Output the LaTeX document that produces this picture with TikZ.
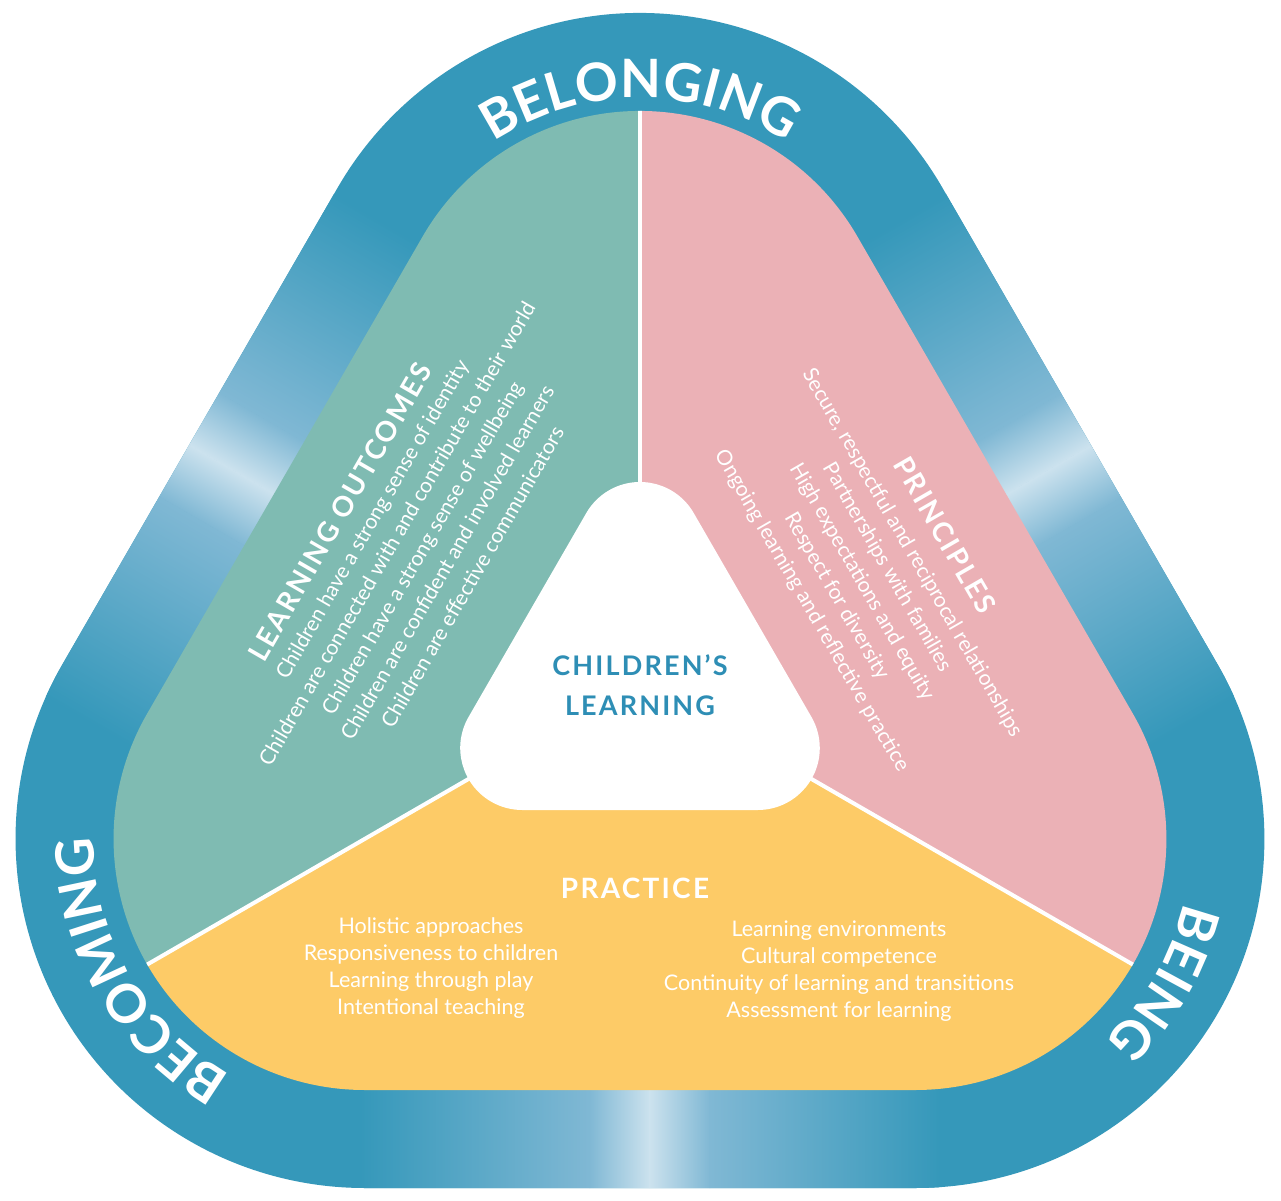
\documentclass[tikz,border=0pt]{standalone}
\usepackage{fontspec}
\setmainfont{Lato}
\newfontfamily\headfont{Lato}[LetterSpace=8.0]
\usepackage{tikz}
\usetikzlibrary{positioning,calc,decorations.text}

\definecolor{ringblue}{RGB}{53,152,186}
\definecolor{ringmid}{RGB}{128,184,212}
\definecolor{ringlight}{RGB}{204,226,238}
\definecolor{outcometeal}{RGB}{127,187,178}
\definecolor{principlepink}{RGB}{235,177,182}
\definecolor{practiceyellow}{RGB}{253,203,103}
\definecolor{titleblue}{RGB}{46,142,181}

% rounded triangle round (mid): #1 distance of the corner centres, #2 corner radius
\newcommand{\roundtri}[2]{($(mid)+(330:#1)+(270:#2)$) arc[start angle=270, end angle=390, radius=#2]
  -- ($(mid)+(90:#1)+(30:#2)$) arc[start angle=30, end angle=150, radius=#2]
  -- ($(mid)+(210:#1)+(150:#2)$) arc[start angle=150, end angle=270, radius=#2] -- cycle}

\tikzset{
  listtext/.style={text=white, align=center, font=\fontsize{21}{29}\selectfont},
  headtext/.style={text=white, font=\headfont\bfseries\fontsize{28}{30}\selectfont},
  ringword/.style={decorate, decoration={text along path, text align=center, text color=white, text={|\bfseries\fontsize{53}{53}\selectfont|#1}}}
}

\begin{document}
\begin{tikzpicture}[x=1pt, y=1pt]
\useasboundingbox (0,0) rectangle (1281,1200);
\fill[white] (0,0) rectangle (1281,1200);
\coordinate (mid) at (640,520);

% Ring
\fill[ringblue] \roundtri{318}{349};
\begin{scope}
\clip \roundtri{318}{349};
\foreach \a/\s in {150/22, 270/10, 30/-22} {
  \begin{scope}[transform canvas={shift={(640,520)}, rotate=\a+90}, xshift=\s]
    \shade[left color=ringblue, right color=ringmid] (-290,-520) rectangle (-60,-400);
    \shade[left color=ringmid, right color=ringlight] (-60.5,-520) rectangle (0,-400);
    \shade[left color=ringlight, right color=ringmid] (-0.5,-520) rectangle (60,-400);
    \shade[left color=ringmid, right color=ringblue] (59.5,-520) rectangle (290,-400);
  \end{scope}
}
\end{scope}

% Sectors
\begin{scope}
\clip \roundtri{318}{251};
\fill[outcometeal] (mid) -- ($(mid)+(90:900)$) -- ($(mid)+(150:900)$) -- ($(mid)+(210:900)$) -- cycle;
\fill[principlepink] (mid) -- ($(mid)+(90:900)$) -- ($(mid)+(30:900)$) -- ($(mid)+(330:900)$) -- cycle;
\fill[practiceyellow] (mid) -- ($(mid)+(210:900)$) -- ($(mid)+(270:900)$) -- ($(mid)+(330:900)$) -- cycle;
\foreach \a in {90,210,330}
  \draw[white, line width=4pt] (mid) -- ($(mid)+(\a:700)$);
\end{scope}

% Centre
\fill[white] \roundtri{136}{62};
\node[text=titleblue, align=center, font=\headfont\bfseries\fontsize{27}{40}\selectfont] (core) at (640,515) {CHILDREN’S\\LEARNING};

% Ring words
\path[ringword=BELONGING] ($(mid)+(90:318)+(150:264)$) arc[start angle=150, end angle=30, radius=264];
\path[ringword=BECOMING] ($(mid)+(210:318)+(270:271)$) arc[start angle=270, end angle=150, radius=271];
\path[ringword=BEING] ($(mid)+(330:318)+(30:276)$) arc[start angle=30, end angle=-90, radius=276];

% Learning outcomes
\node[headtext, rotate=60] (outcomes-head) at (340,688) {LEARNING OUTCOMES};
\node[listtext, rotate=60] (outcomes-list) at (422,652) {Children have a strong sense of identity\\
Children are connected with and contribute to their world\\
Children have a strong sense of wellbeing\\
Children are confident and involved learners\\
Children are effective communicators};

% Principles
\node[headtext, rotate=-60] (principles-head) at (945,665) {PRINCIPLES};
\node[listtext, rotate=-60] (principles-list) at (862,618) {Secure, respectful and reciprocal relationships\\
Partnerships with families\\
High expectations and equity\\
Respect for diversity\\
Ongoing learning and reflective practice};

% Practice
\node[headtext] (practice-head) at (635,312) {PRACTICE};
\node[listtext, font=\fontsize{21.5}{27}\selectfont] (practice-left) at (431,232) {Holistic approaches\\
Responsiveness to children\\
Learning through play\\
Intentional teaching};
\node[listtext, font=\fontsize{21.5}{27}\selectfont] (practice-right) at (839,229) {Learning environments\\
Cultural competence\\
Continuity of learning and transitions\\
Assessment for learning};
\end{tikzpicture}
\end{document}
